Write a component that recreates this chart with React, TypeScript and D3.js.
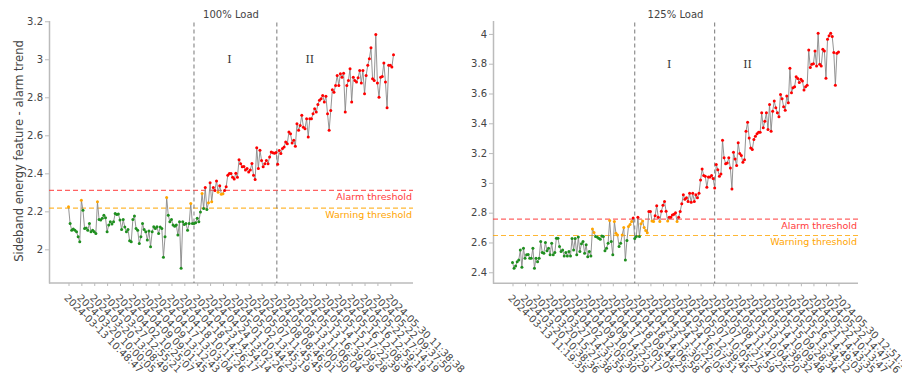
import React, { useRef, useEffect } from "react";
import * as d3 from "d3";

// sideband energy trend, 100% load (one value per measurement)
const load100Values = [
  2.224, 2.136, 2.101, 2.107, 2.101, 2.092, 2.066, 2.04, 2.259, 2.206,
  2.11, 2.113, 2.101, 2.136, 2.092, 2.101, 2.092, 2.084, 2.25, 2.157,
  2.154, 2.163, 2.18, 2.166, 2.092, 2.128, 2.145, 2.133, 2.145, 2.189,
  2.184, 2.186, 2.154, 2.104, 2.157, 2.117, 2.092, 2.104, 2.045, 2.04,
  2.157, 2.175, 2.11, 2.101, 2.031, 2.066, 2.136, 2.104, 2.092, 2.049,
  2.096, 2.014, 2.092, 2.119, 2.11, 2.119, 2.084, 2.117, 2.11, 1.958,
  2.066, 2.273, 2.18, 2.145, 2.157, 2.128, 2.122, 2.128, 2.075, 2.145,
  1.9, 2.145, 2.131, 2.136, 2.101, 2.136, 2.241, 2.136,
  2.136, 2.14, 2.163, 2.145, 2.197, 2.294, 2.215, 2.325, 2.21, 2.245,
  2.35, 2.25, 2.325, 2.31, 2.36, 2.3, 2.335, 2.29, 2.293, 2.31,
  2.33, 2.39, 2.399, 2.399, 2.38, 2.37, 2.4, 2.38, 2.472, 2.45,
  2.434, 2.436, 2.417, 2.425, 2.407, 2.417, 2.452, 2.39, 2.367, 2.535,
  2.425, 2.521, 2.468, 2.434, 2.45, 2.468, 2.45, 2.486, 2.512, 2.508,
  2.506, 2.51,
  2.448, 2.52, 2.504, 2.53, 2.539, 2.565, 2.556, 2.617, 2.608, 2.56,
  2.574, 2.542, 2.661, 2.626, 2.652, 2.705, 2.643, 2.635, 2.687, 2.591,
  2.687, 2.687, 2.713, 2.74, 2.722, 2.762, 2.784, 2.792, 2.81, 2.775,
  2.805, 2.713, 2.626, 2.731, 2.84, 2.827, 2.862, 2.915, 2.862, 2.924,
  2.906, 2.927, 2.722, 2.862, 2.889, 2.95, 2.775, 2.906, 2.889, 2.88,
  2.903, 2.941, 2.875, 2.941, 2.819, 2.915, 2.968, 3.003, 3.06, 2.898,
  2.889, 3.13, 2.875, 2.8, 2.906, 2.91, 2.98, 2.88, 2.745, 2.968,
  2.968, 2.959, 3.024,
];

const load100Ticks = [
  "2024-03-13 10:48:47", "2024-03-20 10:00:05", "2024-03-20 13:08:49",
  "2024-03-27 12:55:21", "2024-04-02 10:25:07", "2024-04-09 09:01:45",
  "2024-04-09 13:12:43", "2024-04-17 13:03:04", "2024-04-18 10:11:26",
  "2024-04-18 14:26:17", "2024-04-23 14:54:14", "2024-04-24 13:02:26",
  "2024-05-01 10:44:23", "2024-05-02 13:45:19", "2024-05-07 11:45:45",
  "2024-05-08 08:46:01", "2024-05-08 13:00:50", "2024-05-13 11:06:04",
  "2024-05-13 16:39:29", "2024-05-14 12:09:28", "2024-05-15 17:22:39",
  "2024-05-16 12:08:36", "2024-05-16 12:59:19", "2024-05-22 17:14:19",
  "2024-05-22 09:37:50", "2024-05-30 11:38:38",
];

// sideband energy trend, 125% load
const load125Values = [
  2.465, 2.427, 2.442, 2.471, 2.483, 2.55, 2.434, 2.562, 2.494, 2.517,
  2.52, 2.494, 2.494, 2.562, 2.427, 2.494, 2.471, 2.494, 2.606, 2.532,
  2.528, 2.6, 2.545, 2.562, 2.517, 2.595, 2.517, 2.532, 2.629, 2.629,
  2.573, 2.539, 2.55, 2.51, 2.532, 2.51, 2.539, 2.51, 2.627, 2.55,
  2.627, 2.517, 2.636, 2.539, 2.591, 2.606, 2.528, 2.584, 2.505, 2.539,
  2.51, 2.69, 2.667, 2.64, 2.636, 2.629, 2.622, 2.644, 2.64, 2.545,
  2.562, 2.595, 2.748, 2.606, 2.517, 2.741, 2.662, 2.651, 2.573, 2.595,
  2.651, 2.7, 2.483, 2.613, 2.707, 2.72, 2.741, 2.764,
  2.627, 2.64, 2.77, 2.64, 2.725, 2.745, 2.7, 2.68, 2.665, 2.808,
  2.808, 2.745, 2.74, 2.78, 2.846, 2.77, 2.74, 2.81, 2.85, 2.875,
  2.81, 2.745, 2.77, 2.77, 2.785, 2.79, 2.8, 2.74, 2.77, 2.808,
  2.86, 2.92, 2.89, 2.9, 2.875, 2.93, 2.87, 2.93, 2.875, 2.92,
  2.9, 2.93, 3.02, 3.094, 3.05, 3.045, 2.97, 3.04, 3.04, 3.05,
  3.03,
  2.966, 3.123, 3.089, 3.044, 3.06, 3.286, 3.168, 3.129, 3.134, 3.168,
  3.1, 2.959, 3.205, 3.161, 3.116, 3.269, 3.197, 3.183, 3.138, 3.156,
  3.347, 3.407, 3.302, 3.235, 3.224, 3.291, 3.313, 3.33, 3.34, 3.34,
  3.471, 3.37, 3.414, 3.471, 3.358, 3.527, 3.347, 3.481, 3.549, 3.504,
  3.47, 3.444, 3.594, 3.565, 3.511, 3.488, 3.583, 3.538, 3.769, 3.605,
  3.639, 3.646, 3.713, 3.7, 3.673, 3.695, 3.684, 3.623, 3.646, 3.655,
  3.892, 3.774, 3.796, 3.8, 3.886, 3.785, 4.005, 3.796, 3.785, 3.897,
  3.886, 3.702, 3.964, 3.987, 4.005, 3.982, 3.875, 3.655, 3.87, 3.879,
];

const load125Ticks = [
  "2024-03-13 11:19:35", "2024-03-20 10:38:36", "2024-03-20 15:27:38",
  "2024-03-27 14:31:55", "2024-04-02 12:05:30", "2024-04-09 10:03:29",
  "2024-04-09 14:22:17", "2024-04-17 12:05:05", "2024-04-18 09:44:25",
  "2024-04-18 14:06:58", "2024-04-23 13:30:16", "2024-04-24 11:22:05",
  "2024-04-24 16:07:51", "2024-05-02 12:39:45", "2024-05-07 10:05:25",
  "2024-05-07 14:27:59", "2024-05-08 11:47:25", "2024-05-13 10:04:20",
  "2024-05-13 14:38:32", "2024-05-14 10:09:48", "2024-05-15 09:28:34",
  "2024-05-15 13:34:12", "2024-05-16 14:49:03", "2024-05-21 14:43:35",
  "2024-05-22 10:13:47", "2024-05-22 14:47:16", "2024-05-30 12:51:16",
];

const load100YTicks = [2, 2.2, 2.4, 2.6, 2.8, 3, 3.2];
const load125YTicks = [2.4, 2.6, 2.8, 3, 3.2, 3.4, 3.6, 3.8, 4];

// warning / alarm levels
const load100Thresholds = [2.217, 2.31];
const load125Thresholds = [2.647, 2.757];

// sample index where each phase starts (dashed lines)
const load100Phases = [78, 129.5];
const load125Phases = [78, 129];
const phaseNames = ["I", "II"];
const phaseLabelIdx = [100, 150];

const TICK_EVERY = 8;
const FONT = "DejaVu Sans, Verdana, sans-serif";

const panels = [
  {
    title: "100% Load",
    values: load100Values,
    ticks: load100Ticks,
    yTicks: load100YTicks,
    thresholds: load100Thresholds,
    phases: load100Phases,
    phaseY: 3.0,
    yDomain: [1.823, 3.204],
    left: 49, right: 413, top: 20.5, bottom: 283,
    yTitle: "Sideband energy feature - alarm trend",
  },
  {
    title: "125% Load",
    values: load125Values,
    ticks: load125Ticks,
    yTicks: load125YTicks,
    thresholds: load125Thresholds,
    phases: load125Phases,
    phaseY: 3.8,
    yDomain: [2.326, 4.09],
    left: 493, right: 858, top: 20.5, bottom: 283.3,
    yTitle: null,
  },
];

const drawPanel = (svg, p) => {
  const g = svg.append("g");
  const n = p.values.length;
  const x = d3.scaleLinear().domain([0, n - 1]).range([p.left + 19.5, p.right - 19.5]);
  const y = d3.scaleLinear().domain(p.yDomain).range([p.bottom, p.top]);
  const [warn, alarm] = p.thresholds;

  /* axes */
  const yAxis = d3.axisLeft(y).tickValues(p.yTicks).tickSize(4).tickSizeOuter(0)
    .tickPadding(2).tickFormat(d3.format("~g"));
  const yg = g.append("g").attr("transform", `translate(${p.left},0)`).call(yAxis);

  const tickIdx = p.ticks.map((_, i) => i * TICK_EVERY);
  const xAxis = d3.axisBottom(x).tickValues(tickIdx).tickSize(3).tickSizeOuter(0)
    .tickFormat((d) => p.ticks[d / TICK_EVERY]);
  const xg = g.append("g").attr("transform", `translate(0,${p.bottom})`).call(xAxis);
  xg.select(".domain").attr("d", `M${p.left},0H${p.right}`);

  [yg, xg].forEach((a) => {
    a.attr("font-family", FONT).attr("font-size", 10);
    a.select(".domain").attr("stroke", "#bbb").attr("stroke-width", 1.5);
    a.selectAll(".tick line").attr("stroke", "#bbb");
    a.selectAll(".tick text").attr("fill", "#444");
  });

  xg.selectAll(".tick text")
    .attr("x", 0).attr("y", 0).attr("dy", "0.35em")
    .attr("text-anchor", "start")
    .attr("transform", "translate(-3,13) rotate(45)");

  /* thresholds */
  const thr = [
    { v: alarm, color: "#ff3b3b", label: "Alarm threshold" },
    { v: warn, color: "#ffa500", label: "Warning threshold" },
  ];
  thr.forEach((t) => {
    g.append("line")
      .attr("x1", p.left).attr("x2", p.right)
      .attr("y1", y(t.v)).attr("y2", y(t.v))
      .attr("stroke", t.color).attr("stroke-opacity", 0.8)
      .attr("stroke-width", 1.2).attr("stroke-dasharray", "5,3");
    g.append("text")
      .attr("x", p.right - 1).attr("y", y(t.v) + 10)
      .attr("text-anchor", "end")
      .attr("font-family", FONT).attr("font-size", 9.5)
      .attr("fill", t.color)
      .text(t.label);
  });

  /* phase boundaries */
  p.phases.forEach((ph) => {
    g.append("line")
      .attr("x1", x(ph)).attr("x2", x(ph))
      .attr("y1", p.top + 2).attr("y2", p.bottom)
      .attr("stroke", "#777").attr("stroke-width", 1)
      .attr("stroke-dasharray", "4,3");
  });
  phaseNames.forEach((name, i) => {
    g.append("text")
      .attr("x", x(phaseLabelIdx[i])).attr("y", y(p.phaseY))
      .attr("dy", "0.35em").attr("text-anchor", "middle")
      .attr("font-family", "DejaVu Serif, Liberation Serif, serif")
      .attr("font-size", 11).attr("fill", "#333")
      .text(name);
  });

  /* trend line + coloured markers */
  const line = d3.line().x((d, i) => x(i)).y((d) => y(d));
  g.append("path")
    .datum(p.values)
    .attr("d", line)
    .attr("fill", "none")
    .attr("stroke", "#888")
    .attr("stroke-width", 0.9);

  g.selectAll("circle.pt")
    .data(p.values)
    .enter()
    .append("circle")
    .attr("class", "pt")
    .attr("cx", (d, i) => x(i))
    .attr("cy", (d) => y(d))
    .attr("r", 1.5)
    .attr("fill", (d) => (d >= alarm ? "#ff0000" : d >= warn ? "#ffa500" : "#1f8f1f"));

  /* titles */
  g.append("text")
    .attr("x", (p.left + p.right) / 2).attr("y", 17.5)
    .attr("text-anchor", "middle")
    .attr("font-family", FONT).attr("font-size", 10).attr("fill", "#444")
    .text(p.title);

  if (p.yTitle) {
    g.append("text")
      .attr("transform", `translate(23,151) rotate(-90)`)
      .attr("text-anchor", "middle")
      .attr("font-family", FONT).attr("font-size", 11.5).attr("fill", "#444")
      .text(p.yTitle);
  }
};

const App = () => {
  const svgRef = useRef(null);

  useEffect(() => {
    const svg = d3.select(svgRef.current);
    svg.selectAll("*").remove();
    panels.forEach((p) => drawPanel(svg, p));
  }, []);

  return (
    <div style={{ position: "absolute", left: 0, top: 0 }}>
      <svg ref={svgRef} width={902} height={374} style={{ display: "block", background: "#fff" }}></svg>
    </div>
  );
};

export default App;
